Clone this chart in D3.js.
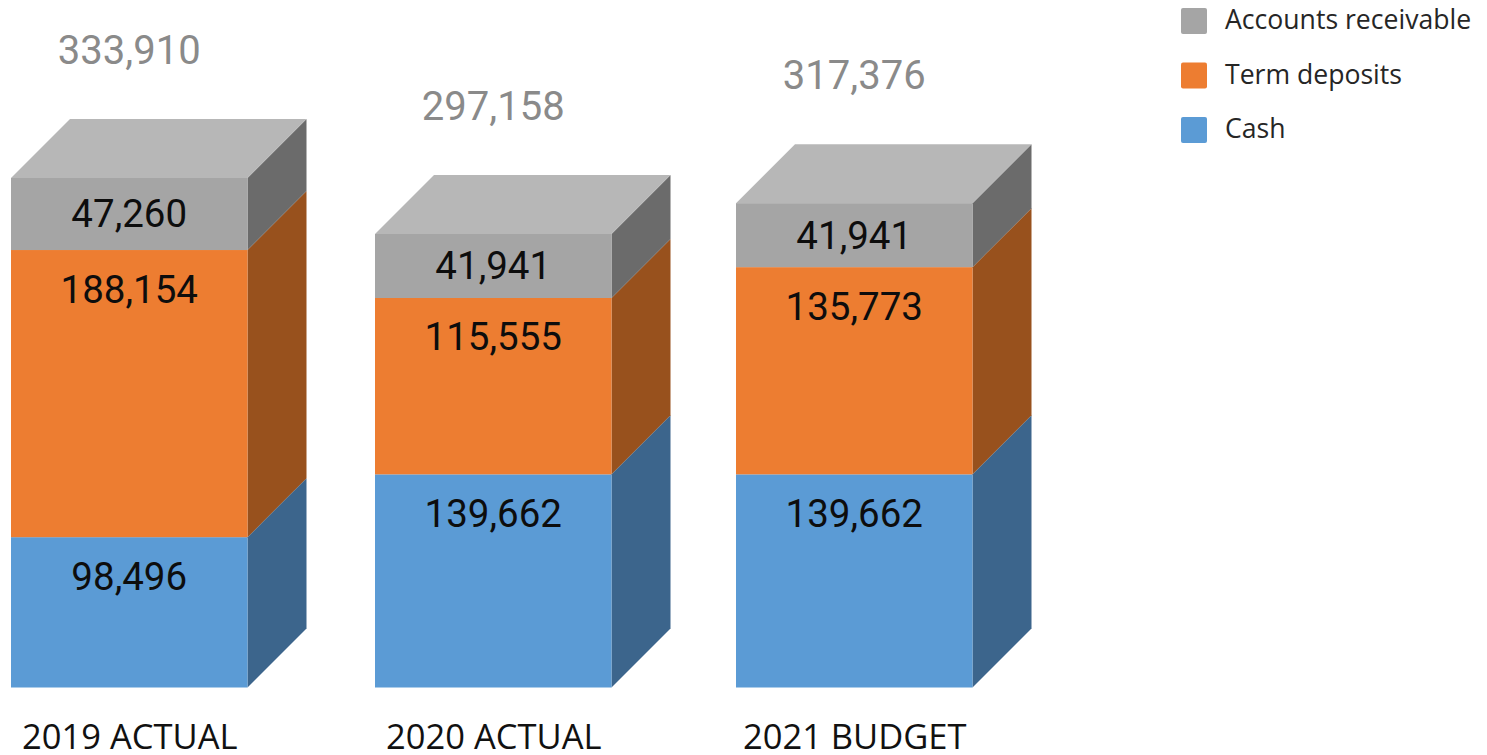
<!DOCTYPE html>
<html>
<head>
<meta charset="utf-8">
<script src="https://cdn.jsdelivr.net/npm/d3@7"></script>
<style>
    html, body { margin: 0; padding: 0; background: #fff; overflow: hidden; }
    .x.axis text { font-family: "Open Sans"; font-size: 34.5px; fill: #111; }
    .legend text { font-family: "Open Sans"; font-size: 26.6px; fill: #262626; }
    .value { font-family: Roboto; font-size: 38.5px; fill: #0d0d0d; text-anchor: middle; }
    .total { font-family: Roboto; font-size: 40px; fill: #8a8a8a; text-anchor: middle; }
</style>
</head>
<body>
<svg id="chart_1"></svg>
<script>
var categories = ["2019 ACTUAL", "2020 ACTUAL", "2021 BUDGET"];
var seriesNames = ["Cash", "Term deposits", "Accounts receivable"];
var cash = [98496, 139662, 139662];
var termDeposits = [188154, 115555, 135773];
var accountsReceivable = [47260, 41941, 41941];
var totals = [333910, 297158, 317376];

var width = 1487,
    height = 755,
    bar_width = 236.5,
    depth = 59;

var front_colors = ["#5b9bd5", "#ed7d31", "#a5a5a5"],
    side_colors = ["#3c658c", "#98511d", "#6b6b6b"],
    top_color = "#b7b7b7";

var series = [cash, termDeposits, accountsReceivable];

var svg_1 = d3.select("#chart_1")
    .attr("width", width)
    .attr("height", height);

// scales
var xScale = d3.scaleOrdinal().domain(categories).range([11, 375, 736]);
var yScale = d3.scaleLinear().domain([0, totals[0]]).range([687.5, 177.9]);

var stacked = d3.stack()
    .keys(d3.range(series.length))
    .value(function (d, key) { return series[key][d]; })(d3.range(categories.length));

var layers = svg_1.selectAll(".layer")
    .data(stacked)
    .enter().append("g")
    .attr("class", "layer");

// side faces
layers.selectAll(".side")
    .data(function (s) { return s.map(function (d, i) { return {y0: d[0], y1: d[1], i: i}; }); })
    .enter().append("path")
    .attr("class", "side")
    .attr("fill", function () { return side_colors[d3.select(this.parentNode).datum().key]; })
    .attr("d", function (d) {
        var x = xScale(categories[d.i]) + bar_width;
        return "M" + x + "," + yScale(d.y0)
            + "L" + (x + depth) + "," + (yScale(d.y0) - depth)
            + "L" + (x + depth) + "," + (yScale(d.y1) - depth)
            + "L" + x + "," + yScale(d.y1) + "Z";
    });

// front faces
layers.selectAll(".front")
    .data(function (s) { return s.map(function (d, i) { return {y0: d[0], y1: d[1], i: i}; }); })
    .enter().append("rect")
    .attr("class", "front")
    .attr("x", function (d) { return xScale(categories[d.i]); })
    .attr("y", function (d) { return yScale(d.y1); })
    .attr("width", bar_width)
    .attr("height", function (d) { return yScale(d.y0) - yScale(d.y1); })
    .attr("fill", function () { return front_colors[d3.select(this.parentNode).datum().key]; });

// top faces
svg_1.selectAll(".top")
    .data(categories)
    .enter().append("path")
    .attr("class", "top")
    .attr("fill", top_color)
    .attr("d", function (d, i) {
        var x = xScale(d), y = yScale(totals[i]);
        return "M" + x + "," + y
            + "L" + (x + depth) + "," + (y - depth)
            + "L" + (x + bar_width + depth) + "," + (y - depth)
            + "L" + (x + bar_width) + "," + y + "Z";
    });

// value labels, near the top of each segment
layers.selectAll(".value")
    .data(function (s) { return s.map(function (d, i) { return {y0: d[0], y1: d[1], i: i, v: d[1] - d[0]}; }); })
    .enter().append("text")
    .attr("class", "value")
    .attr("x", function (d) { return xScale(categories[d.i]) + bar_width / 2; })
    .attr("y", function (d) {
        var h = yScale(d.y0) - yScale(d.y1);
        return yScale(d.y1) + Math.min(39, h / 2) + 13.5;
    })
    .text(function (d) { return d3.format(",")(d.v); });

svg_1.selectAll(".total")
    .data(totals)
    .enter().append("text")
    .attr("class", "total")
    .attr("x", function (d, i) { return xScale(categories[i]) + bar_width / 2; })
    .attr("y", function (d) { return yScale(d) - 114; })
    .text(d3.format(","));

// x axis, ticks sit at the bar centres
var xAxis = d3.axisBottom(xScale.copy().range(xScale.range().map(function (d) { return d + bar_width / 2; })))
    .tickSize(0)
    .tickPadding(0);

var xAxisGroup = svg_1.append("g")
    .attr("class", "x axis")
    .attr("transform", "translate(0,724)")
    .call(xAxis);

xAxisGroup.select(".domain").remove();

// legend
var legend = svg_1.selectAll(".legend")
    .data(seriesNames.slice().reverse())
    .enter().append("g")
    .attr("class", "legend")
    .attr("transform", function (d, i) { return "translate(1181," + (8 + i * 54.5) + ")"; });

legend.append("rect")
    .attr("width", 26)
    .attr("height", 26)
    .attr("rx", 2)
    .attr("fill", function (d, i) { return front_colors[seriesNames.indexOf(d)]; });

legend.append("text")
    .attr("x", 44)
    .attr("y", 21)
    .text(function (d) { return d; });
</script>
</body>
</html>
